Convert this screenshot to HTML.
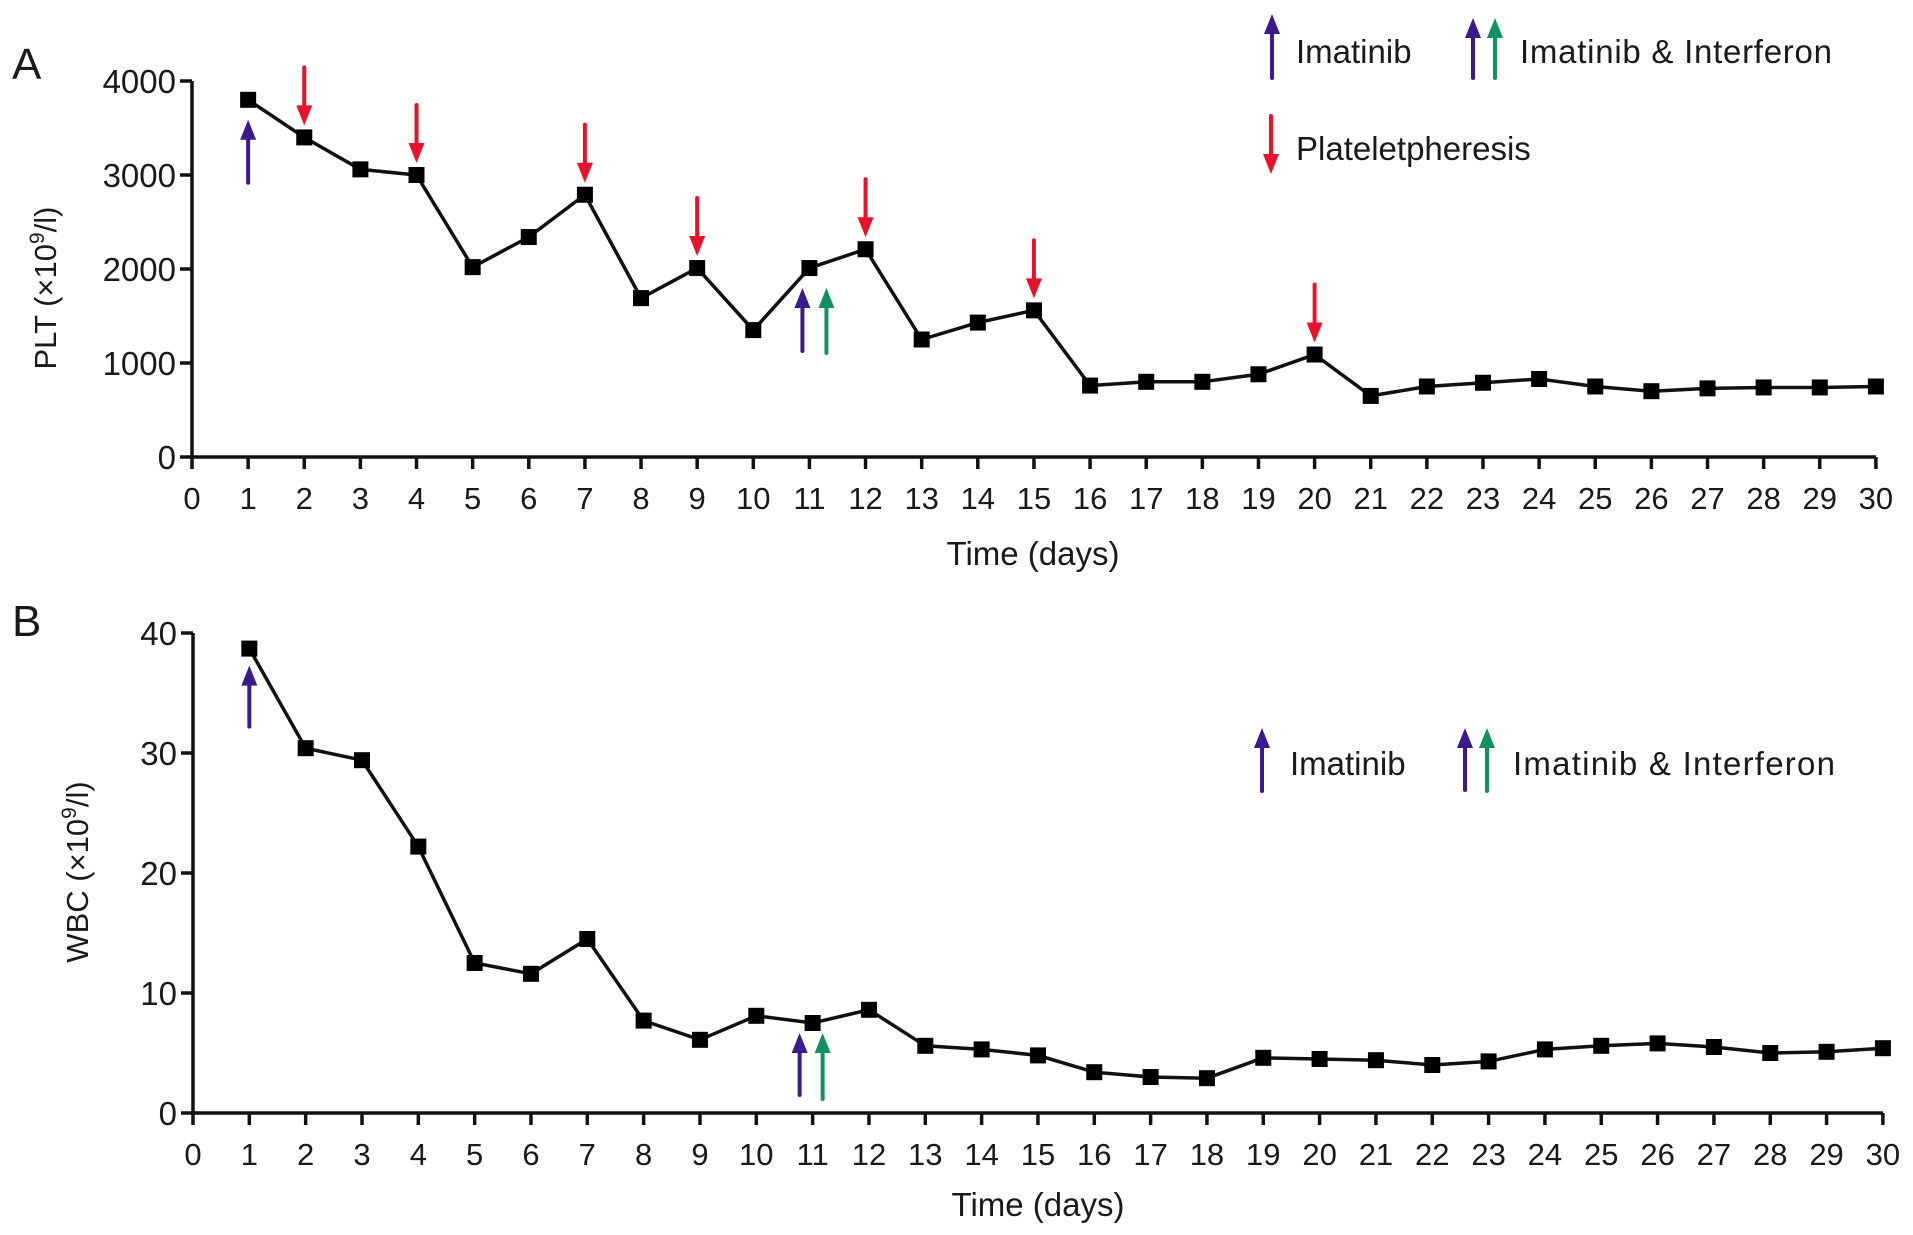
<!DOCTYPE html>
<html><head><meta charset="utf-8"><style>
html,body{margin:0;padding:0;background:#fff;}
svg{display:block;font-family:"Liberation Sans",sans-serif;}
text{fill:#1a1a1a;}
</style></head><body>
<svg id="chart" width="1913" height="1235" viewBox="0 0 1913 1235" xmlns="http://www.w3.org/2000/svg">
<text x="12" y="79" font-size="44">A</text>
<text x="12" y="636" font-size="44">B</text>
<text transform="translate(56,288) rotate(-90)" text-anchor="middle" font-size="31">PLT (×10<tspan font-size="21" dy="-12">9</tspan><tspan dy="12">/l)</tspan></text>
<text transform="translate(88,872) rotate(-90)" text-anchor="middle" font-size="31">WBC (×10<tspan font-size="21" dy="-12">9</tspan><tspan dy="12">/l)</tspan></text>
<text x="1033" y="565" text-anchor="middle" font-size="33">Time (days)</text>
<text x="1038" y="1216" text-anchor="middle" font-size="33">Time (days)</text>
<g id="legA">
<text x="1296" y="63" font-size="33">Imatinib</text>
<text x="1520" y="63" font-size="33" textLength="312">Imatinib &amp; Interferon</text>
<text x="1296" y="160" font-size="33">Plateletpheresis</text>
</g>
<g id="legB">
<text x="1290" y="775" font-size="33">Imatinib</text>
<text x="1513" y="775" font-size="33" textLength="322">Imatinib &amp;  Interferon</text>
</g>
<g id="plots"></g>
</svg>
<script>
const days = [1,2,3,4,5,6,7,8,9,10,11,12,13,14,15,16,17,18,19,20,21,22,23,24,25,26,27,28,29,30];
const pltValues = [3800,3400,3060,3000,2020,2340,2790,1690,2010,1350,2010,2210,1250,1430,1560,760,800,800,880,1090,650,750,790,830,750,700,730,740,740,750];
const wbcValues = [38.7,30.4,29.4,22.2,12.5,11.6,14.5,7.7,6.1,8.1,7.5,8.6,5.6,5.3,4.8,3.4,3.0,2.9,4.6,4.5,4.4,4.0,4.3,5.3,5.6,5.8,5.5,5.0,5.1,5.4];
const pltTicks = [0,1000,2000,3000,4000];
const wbcTicks = [0,10,20,30,40];
const xTicks = [0,1,2,3,4,5,6,7,8,9,10,11,12,13,14,15,16,17,18,19,20,21,22,23,24,25,26,27,28,29,30];
const plateletpheresisDays = [2,4,7,9,12,15,20];

const NS = "http://www.w3.org/2000/svg";
const root = document.getElementById('plots');
function mk(tag, attrs, parent){
  const e = document.createElementNS(NS, tag);
  for (const k in attrs) e.setAttribute(k, attrs[k]);
  (parent||root).appendChild(e);
  return e;
}
function arrowUp(x, yTop, yBot, color, parent){
  const g = mk('g', {}, parent);
  
  
  mk('line', {x1:x, y1:yTop+16, x2:x, y2:yBot, stroke:color, 'stroke-width':4, 'stroke-linecap':'round'}, g);
  mk('polygon', {points:`${x-8},${yTop+20} ${x+8},${yTop+20} ${x},${yTop}`, fill:color}, g);
}
function arrowDown(x, yTop, yBot, color, parent){
  const g = mk('g', {}, parent);
  
  
  mk('line', {x1:x, y1:yTop, x2:x, y2:yBot-16, stroke:color, 'stroke-width':4, 'stroke-linecap':'round'}, g);
  mk('polygon', {points:`${x-8},${yBot-20} ${x+8},${yBot-20} ${x},${yBot}`, fill:color}, g);
}
const PUR = '#3a1a8c', GRN = '#119060', RED = '#e8122a';

function drawPanel(cfg){
  const g = mk('g', {});
  
  
  const sx = d => cfg.x0 + d*cfg.dx;
  const sy = v => cfg.y0 - v/cfg.max*(cfg.y0 - cfg.yTop);
  const ax = mk('path', {d:`M${cfg.x0},${cfg.yTop} V${cfg.y0} H${sx(30)}`, fill:'none', stroke:'#111', 'stroke-width':3.5}, g);
  
  
  cfg.yTicks.forEach(t => {
    mk('line', {x1:cfg.x0-12, y1:sy(t), x2:cfg.x0, y2:sy(t), stroke:'#111', 'stroke-width':3.5}, g);
    const tx = mk('text', {x:cfg.x0-16, y:sy(t)+12, 'text-anchor':'end', 'font-size':33}, g);
    
    
    tx.textContent = t;
  });
  xTicks.forEach(t => {
    mk('line', {x1:sx(t), y1:cfg.y0, x2:sx(t), y2:cfg.y0+12, stroke:'#111', 'stroke-width':3.5}, g);
    const tx = mk('text', {x:sx(t), y:cfg.y0+52, 'text-anchor':'middle', 'font-size':31}, g);
    
    
    tx.textContent = t;
  });
  const pts = days.map((d,i) => `${sx(d)},${sy(cfg.values[i])}`).join(' ');
  const ln = mk('polyline', {points:pts, fill:'none', stroke:'#111', 'stroke-width':3.5}, g);
  
  
  days.forEach((d,i) => {
    const r = mk('rect', {x:sx(d)-8, y:sy(cfg.values[i])-8, width:16, height:16, fill:'#000'}, g);
    
    
  });
  return {sx, sy, g};
}

const A = drawPanel({name:'plt-chart', x0:192, dx:56.13, y0:457, yTop:81, max:4000, yTicks:pltTicks, values:pltValues});
const B = drawPanel({name:'wbc-chart', x0:193, dx:56.33, y0:1113, yTop:633, max:40, yTicks:wbcTicks, values:wbcValues});

arrowUp(A.sx(1), A.sy(pltValues[0])+20, A.sy(pltValues[0])+83, PUR, A.g);
arrowUp(A.sx(11)-7, A.sy(pltValues[10])+20, A.sy(pltValues[10])+83, PUR, A.g);
arrowUp(A.sx(11)+17, A.sy(pltValues[10])+20, A.sy(pltValues[10])+85, GRN, A.g);
plateletpheresisDays.forEach(d => {
  const y = A.sy(pltValues[d-1]);
  arrowDown(A.sx(d), y-70, y-12, RED, A.g);
});
arrowUp(B.sx(1), B.sy(wbcValues[0])+17, B.sy(wbcValues[0])+78, PUR, B.g);
arrowUp(B.sx(11)-13, B.sy(wbcValues[10])+10, B.sy(wbcValues[10])+72, PUR, B.g);
arrowUp(B.sx(11)+10, B.sy(wbcValues[10])+10, B.sy(wbcValues[10])+76, GRN, B.g);

const legA = document.getElementById('legA');
arrowUp(1272, 14, 78, PUR, legA);
arrowUp(1473, 18, 78, PUR, legA);
arrowUp(1495, 18, 78, GRN, legA);
arrowDown(1271, 116, 174, RED, legA);
const legB = document.getElementById('legB');
arrowUp(1262, 728, 791, PUR, legB);
arrowUp(1465, 728, 790, PUR, legB);
arrowUp(1487, 728, 791, GRN, legB);
</script>
</body></html>
